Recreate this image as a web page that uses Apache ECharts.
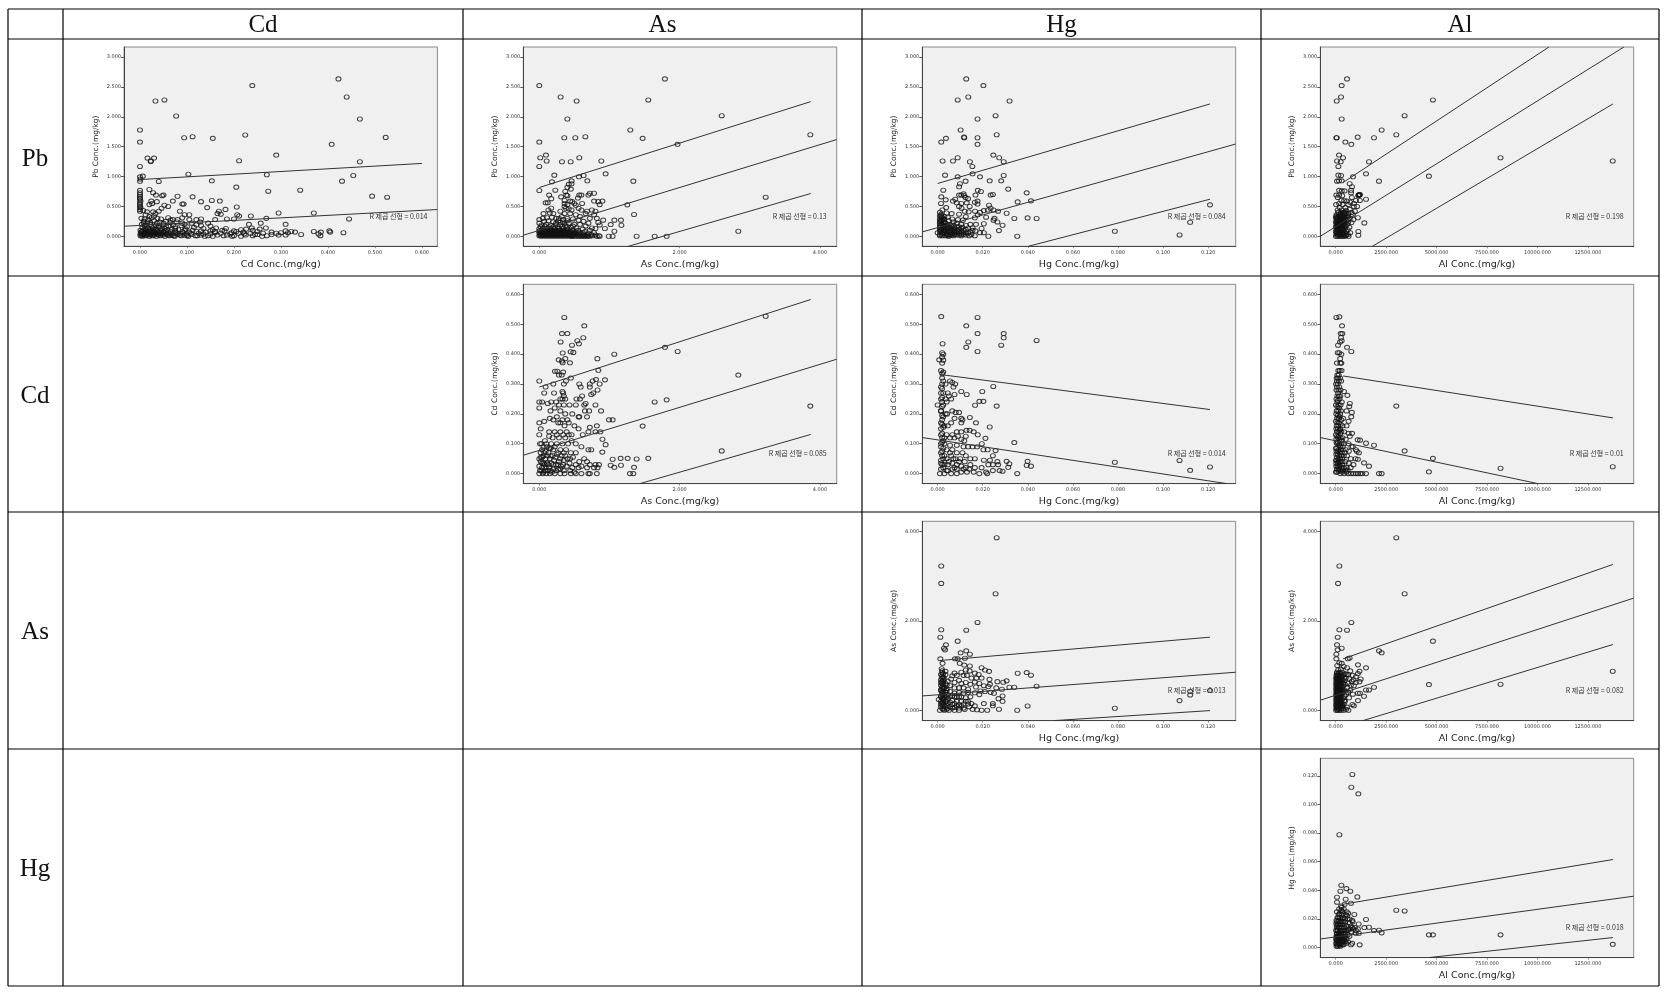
<!DOCTYPE html>
<html><head><meta charset="utf-8">
<script src="https://cdn.jsdelivr.net/npm/echarts@6/dist/echarts.min.js"></script>
<style>html,body{margin:0;padding:0;background:#fff}#c{width:1673px;height:998px;filter:blur(0.3px)}</style>
</head><body><div id="c"></div>
<script>
const colHeaders=['Cd','As','Hg','Al'];
const rowHeaders=['Pb','Cd','As','Hg'];
const ticksCd=[0,.1,.2,.3,.4,.5,.6];
const ticksPb=[0,.5,1,1.5,2,2.5,3];
const ticksAs=[0,2,4];
const ticksHg=[0,.02,.04,.06,.08,.1,.12];
const ticksAl=[0,2500,5000,7500,10000,12500];

const pbCd=[[.4224,2.636],[.239,2.524],[.44,2.333],[.052,2.283],[.033,2.266],[.468,1.964],[.077,2.015],[0,1.78],[0,1.578],[.094,1.65],[.112,1.668],[.155,1.64],[.224,1.696],[.523,1.656],[.408,1.54],[.29,1.36],[.016,1.31],[.03,1.31],[.023,1.254],[.023,1.26],[0,1.17],[.211,1.265],[.468,1.248],[.103,1.04],[.27,1.03],[.454,1.018],[0,.996],[.006,1.007],[.001,.96],[.04,.918],[.153,.929],[.43,.923],[0,.92],[.205,.823],[.273,.755],[.341,.772],[.02,.783],[.494,.672],[.526,.655],
[0,.42],[0,.45],[.001,.48],[0,.5],[0,.53],[0,.56],[.001,.59],[0,.62],[0,.64],[0,.67],[0,.7],[0,.73],[0,.77],
[.028,.73],[.034,.69],[.047,.68],[.05,.69],[.024,.59],[.02,.53],[.026,.55],[.036,.58],[.052,.52],[.08,.67],[.07,.59],[.112,.66],[.13,.58],[.09,.54],[.093,.54],[.153,.6],[.17,.59],[.143,.48],[.206,.49],[.182,.45],[.168,.42],[.165,.38],[.172,.37],[.06,.5],[.046,.47],[.04,.42],[.085,.42],[.007,.43],[.015,.41],[.028,.41],[.033,.38],[.095,.36],[.105,.36],[.09,.31],[.207,.36],[.211,.34],[.236,.34],[.295,.39],[.37,.39],[.269,.3],[.445,.29],[.2,.29],[.185,.29],[.16,.28],[.13,.29],[.12,.28],[.105,.28],[.31,.2],[.257,.22],[.232,.2],
[.003,.3],[.01,.29],[.018,.28],[.025,.31],[.037,.3],[.045,.29],[.06,.31],[.07,.28],[.008,.25],[.016,.24],[.03,.26],[.042,.24],[.055,.25],[.065,.23],[.078,.24],[.09,.22],[.11,.22],[.128,.24],[.145,.22],[.004,.2],[.012,.19],[.022,.2],[.034,.18],[.05,.19],[.062,.17],[.075,.16],[.088,.18],[.1,.16],[.115,.15],[.13,.18],[.15,.17],[.162,.14],[.183,.13],[.005,.15],[.017,.14],[.028,.14],[.04,.15],[.052,.13],[.068,.12],[.082,.11],[.097,.12],[.112,.1],[.135,.13],[.155,.11],[.175,.1],[.2,.09],[.215,.11],[.226,.12],[.24,.1],[.255,.12],[.268,.14],[.238,.14],
[.001,.1],[.006,.09],[.012,.1],[.02,.09],[.028,.1],[.036,.09],[.045,.1],[.055,.09],[.065,.08],[.075,.09],[.09,.08],[.105,.07],[.12,.08],[.14,.07],[.16,.08],[.18,.09],[.205,.08],[.22,.07],[.25,.08],[.28,.07],[.31,.09],[.322,.08],[.33,.07],[.002,.07],[.009,.06],[.016,.07],[.024,.06],[.032,.07],[.041,.06],[.05,.07],[.06,.06],[.072,.05],[.085,.05],[.1,.04],[.125,.05],[.15,.04],[.172,.05],[.192,.04],[.21,.05],[.235,.05],[.262,.05],[.29,.05],[.3,.06],[.315,.06],[.343,.03],[.37,.08],[.385,.07],[.403,.09],[.405,.07],[.433,.06],
[.001,.04],[.007,.03],[.014,.04],[.021,.03],[.029,.04],[.038,.03],[.047,.04],[.057,.03],[.068,.02],[.08,.03],[.095,.02],[.11,.03],[.13,.02],[.145,.01],[.165,.02],[.185,.02],[.2,.01],[.225,.02],[.245,.03],[.27,.01],[.295,.02],[.31,.02],[.38,.04],[.384,.01],[.001,.01],[.005,0],[.012,.01],[.02,0],[.027,.01],[.035,0],[.044,.01],[.053,0],[.063,.01],[.074,0],[.088,.01],[.103,0],[.118,.01],[.138,0],[.155,0],[.178,.01],[.196,0],[.215,0],[.24,.01],[.26,0],
[.004,.02],[.01,.02],[.016,.02],[.023,.02],[.031,.02],[.04,.02],[.05,.02],[.06,.02],[.072,.01],[.085,.02],[.1,.01],[.122,.01],[.004,.05],[.011,.05],[.018,.05],[.026,.05],[.035,.05],[.044,.05],[.054,.05],[.066,.04],[.078,.06],[.092,.06],[.108,.05],[.135,.04],[.16,.06],[.004,.08],[.014,.08],[.022,.08],[.03,.08],[.04,.08],[.05,.08],[.095,.1],[.13,.09],[.15,.09],[.195,.06],[.222,.04],[.25,.03],[.28,.03],[.012,.13],[.022,.12],[.034,.12],[.045,.13],[.058,.11],[.075,.13],[.01,.17],[.024,.17],[.04,.17],[.056,.16],[.07,.19],[.095,.2],[.12,.19],[.008,.22],[.022,.23],[.036,.22],[.05,.22],[.065,.27],[.08,.28],[.02,.33],[.03,.34],[.012,.36]];

const pbAs=[[1.79,2.636],[0,2.524],[.304,2.333],[.532,2.266],[1.553,2.283],[2.6,2.02],[.4,1.964],[1.297,1.78],[.356,1.65],[.513,1.65],[.656,1.668],[1.473,1.64],[3.862,1.7],[0,1.578],[1.97,1.54],[.014,1.315],[.095,1.36],[.57,1.315],[.105,1.26],[.323,1.248],[.447,1.248],[.884,1.26],[0,1.17],[.214,1.024],[.945,1.046],[.632,1.018],[.565,.996],[1.34,.923],[.684,.929],[.46,.929],[.18,.912],[0,.767],[.228,.772],[3.226,.655],[2.836,.084],[1.815,0],[1.644,0],[1.387,0],[1.35,.364],[1.254,.526],[1.164,.27],[1.17,.185],[1.07,.27],[.91,.27],[1.07,.084],[1.045,0],[.99,0],[1.017,.196],[.935,.13],
[.42,.87],[.46,.88],[.4,.82],[.45,.79],[.37,.75],[.31,.66],[.14,.69],[.17,.63],[.385,.69],[.4,.68],[.57,.69],[.6,.69],[.7,.69],[.72,.72],[.78,.72],[.78,.59],[.84,.58],[.9,.59],[.86,.53],[.55,.64],[.61,.55],[.09,.56],[.12,.56],[.36,.6],[.36,.55],[.4,.53],[.44,.59],[.47,.58],[.5,.55],[.17,.47],[.13,.44],[.36,.5],[.38,.47],[.42,.46],[.46,.44],[.52,.52],[.56,.47],[.6,.44],[.68,.42],[.75,.44],[.8,.42],[.06,.38],[.15,.39],[.2,.38],[.3,.42],[.36,.38],[.44,.38],[.52,.36],[.58,.33],[.66,.38],[.72,.3],[.78,.36],[.82,.3],[0,.28],[.05,.3],[.11,.31],[.18,.32],[.24,.3],[.32,.33],[.4,.3],[.48,.29],[.56,.27],[.63,.25],[.7,.22],[.84,.23],[.86,.19],[0,.22],[.07,.25],[.13,.26],[.2,.24],[.27,.26],[.34,.24],[.42,.22],[.5,.2],[.58,.2],[.66,.17],[.75,.14],[.8,.13],[.03,.19],[.1,.2],[.17,.18],[.23,.19],[.3,.19],[.37,.17],[.45,.15],[.53,.14],[.62,.12],[.72,.1],
[0,.13],[.05,.14],[.11,.14],[.16,.13],[.22,.13],[.28,.13],[.34,.13],[.4,.12],[.48,.11],[.55,.1],[.65,.08],[.78,.06],[0,.09],[.03,.1],[.07,.09],[.11,.1],[.15,.09],[.19,.1],[.23,.09],[.27,.1],[.31,.09],[.35,.1],[.39,.09],[.43,.08],[.47,.09],[.52,.07],[.57,.07],[.62,.06],[.7,.05],[0,.06],[.02,.07],[.05,.06],[.08,.07],[.11,.06],[.14,.07],[.17,.06],[.2,.07],[.23,.06],[.26,.07],[.29,.06],[.32,.07],[.35,.06],[.38,.05],[.41,.06],[.44,.05],[.48,.05],[.51,.04],[.55,.04],[.59,.04],[.63,.03],[.68,.03],[.74,.03],[.8,.02],[.85,.01],[.01,.03],[.04,.04],[.07,.03],[.1,.04],[.13,.03],[.16,.04],[.19,.03],[.22,.04],[.25,.03],[.28,.04],[.31,.03],[.34,.04],[.37,.03],[.4,.03],[.43,.02],[.46,.03],[.5,.02],[.54,.02],[.58,.01],[.62,.01],[.66,.01],[.7,.01],[.76,.01],[.82,0],[.86,0],[0,.01],[.03,0],[.06,.01],[.09,0],[.12,.01],[.15,0],[.18,.01],[.21,0],[.24,.01],[.27,0],[.3,.01],[.33,0],[.36,.01],[.39,0],[.42,.01],[.45,0],[.48,0],[.52,0],[.56,0],[.6,0],[.64,0],[.68,0],[.72,0],
[.015,.02],[.045,.02],[.075,.02],[.105,.02],[.135,.02],[.165,.02],[.195,.02],[.225,.02],[.255,.02],[.285,.02],[.315,.02],[.345,.02],[.375,.02],[.405,.02],[.44,.01],[.475,.01],[.02,.05],[.05,.05],[.08,.05],[.11,.05],[.14,.05],[.17,.05],[.2,.05],[.23,.05],[.26,.05],[.29,.05],[.32,.05],[.35,.05],[.39,.04],[.43,.04],[.47,.04],[.04,.08],[.09,.08],[.13,.08],[.17,.08],[.21,.08],[.25,.08],[.29,.08],[.33,.08],[.37,.08],[.41,.07],[.45,.07],[.5,.06],[.02,.16],[.08,.17],[.14,.16],[.2,.16],[.26,.16],[.33,.16],[.4,.16],[.48,.17],[.24,.22],[.3,.23],[.36,.22],[.4,.26],[.34,.28],[.28,.3]];

const pbHg=[[.0127,2.636],[.0203,2.524],[.0136,2.333],[.0089,2.283],[.0319,2.266],[.0257,2.02],[.0177,1.964],[.0102,1.78],[.0037,1.64],[.0016,1.578],[.0117,1.66],[.0118,1.65],[.0177,1.65],[.0262,1.7],[.0177,1.54],[.0247,1.36],[.0089,1.315],[.0273,1.315],[.0022,1.26],[.0068,1.26],[.0143,1.248],[.0293,1.248],[.0154,1.17],[.0033,1.024],[.0089,.996],[.0155,1.046],[.0188,.996],[.0293,1.018],[.0124,.923],[.0231,.929],[.0282,.929],[.0099,.88],[.0095,.83],[.0025,.772],[.0313,.79],[.0395,.727],[.0355,.576],[.0414,.593],[.0306,.386],[.034,.297],[.0399,.308],[.0439,.297],[.0353,0],[.0272,.095],[.0288,.185],[.0786,.084],[.1073,.022],[.112,.235],[.1208,.526],
[.0178,.77],[.0192,.75],[.0168,.69],[.0115,.71],[.0118,.68],[.0124,.65],[.0135,.63],[.0095,.69],[.0105,.69],[.0016,.66],[.0036,.61],[.0078,.62],[.0068,.59],[.0085,.56],[.0105,.55],[.0129,.56],[.0165,.57],[.0177,.59],[.0235,.69],[.0245,.7],[.0015,.55],[.0038,.48],[.0095,.5],[.0106,.47],[.0142,.5],[.0177,.54],[.0228,.52],[.0235,.47],[.0248,.44],[.0268,.42],[.0021,.44],[.004,.39],[.0062,.38],[.0095,.37],[.012,.42],[.0138,.41],[.0166,.42],[.0188,.4],[.0205,.43],[.0223,.44],[.0178,.36],[.0165,.31],[.0215,.32],[.0248,.27],[.0252,.3],[.0265,.24],[.0205,.21],[.0195,.13],[.017,.2],[.0145,.2],[.0126,.18],[.0112,.27],[.009,.28],[.0065,.29],[.0045,.32],[.0125,.33],[.0155,.1],[.0145,.07],[.0168,.09],[.0188,.06],[.0205,.06],[.0225,0],[.0165,.01],[.0135,.05],[.0115,.1],
[.001,.4],[.0015,.37],[.001,.34],[.002,.32],[.001,.29],[.002,.27],[.001,.25],[.0025,.24],[.001,.22],[.002,.2],[.001,.18],[.003,.17],[.001,.15],[.002,.13],[.001,.11],[.0025,.1],[.001,.08],[.002,.06],[0,.06],[.001,.03],[.002,.01],[.003,.28],[.0035,.22],[.004,.17],[.0035,.12],[.0035,.08],[.004,.04],[.0035,.01],[.005,.26],[.0055,.2],[.005,.15],[.0055,.1],[.005,.07],[.0055,.03],[.005,0],[.007,.24],[.007,.18],[.007,.12],[.007,.08],[.0065,.04],[.007,.01],[.0085,.22],[.0085,.16],[.0085,.1],[.0085,.06],[.0085,.02],[.0105,.2],[.0105,.13],[.0105,.08],[.0105,.04],[.0105,.01],[.0125,.11],[.0125,.06],[.0125,.02],[.014,.01],[.015,.03],[.0135,.14],[.0155,.14],
[.001,.01],[.002,.04],[.003,.06],[.0015,.09],[.003,.1],[.0015,.12],[.003,.14],[.0015,.16],[.0025,.19],[.0015,.21],[.003,.23],[.0015,.26],[.0025,.29],[.0015,.31],[.003,.33],[.0015,.35],[.0045,.01],[.0045,.03],[.0045,.08],[.0045,.12],[.0045,.19],[.006,.02],[.006,.06],[.006,.1],[.006,.14],[.006,.18],[.0075,.03],[.0075,.06],[.0075,.1],[.0075,.14],[.0095,.02],[.0095,.05],[.0095,.08],[.0095,.12],[.0115,.03],[.0115,.06],[.0095,.16],[.011,.15]];

const pbAl=[[561,2.636],[297,2.524],[264,2.333],[50,2.266],[4818,2.283],[3416,2.02],[297,1.964],[2277,1.78],[33,1.65],[50,1.65],[1089,1.66],[1898,1.65],[3003,1.7],[478,1.578],[775,1.54],[165,1.36],[363,1.315],[66,1.26],[248,1.248],[1650,1.248],[132,1.17],[8168,1.315],[13729,1.26],[132,1.024],[264,1.018],[1502,1.046],[858,.996],[4620,1.007],[2145,.923],[66,.923],[165,.929],[297,.929],[693,.88],[808,.83],[1419,.224],[1122,.08],[1122,.017],[1502,.62],
[1139,.69],[1160,.7],[1180,.69],[1120,.68],[1200,.7],[170,.77],[300,.76],[440,.76],[760,.77],[760,.73],[30,.69],[170,.69],[320,.68],[800,.65],[1000,.6],[1200,.6],[100,.65],[280,.6],[420,.6],[560,.59],[720,.57],[900,.55],[20,.53],[170,.55],[340,.53],[620,.53],[900,.5],[1060,.5],[200,.48],[480,.48],[700,.45],[950,.42],[100,.44],[300,.44],[520,.43],[780,.4],[1100,.31],[120,.4],[280,.4],[400,.4],[620,.38],[850,.36],
[40,.36],[150,.36],[250,.36],[350,.35],[450,.35],[560,.33],[700,.3],[880,.28],[10,.32],[80,.32],[180,.32],[280,.32],[380,.31],[480,.3],[600,.28],[780,.23],[40,.28],[120,.28],[210,.28],[300,.28],[400,.27],[500,.26],[620,.24],[10,.24],[80,.24],[170,.24],[260,.24],[350,.24],[440,.23],[560,.2],[40,.2],[120,.2],[210,.2],[300,.2],[400,.19],[500,.17],[680,.15],[10,.16],[80,.16],[170,.16],[260,.16],[350,.15],[450,.13],[600,.11],[40,.12],[120,.12],[210,.12],[300,.12],[400,.1],[520,.08],[720,.06],[10,.08],[80,.08],[170,.08],[260,.08],[350,.07],[460,.05],[600,.03],[40,.04],[120,.04],[210,.04],[300,.04],[400,.03],[500,.01],[640,0],[10,0],[80,0],[170,0],[260,0],[350,0],[440,0],
[50,.34],[200,.34],[320,.33],[420,.33],[60,.3],[220,.3],[340,.3],[100,.26],[230,.26],[330,.26],[60,.22],[190,.22],[320,.22],[440,.2],[90,.18],[240,.18],[360,.17],[60,.14],[190,.14],[330,.13],[100,.1],[250,.1],[360,.1],[50,.06],[190,.06],[330,.06],[100,.02],[240,.02],[380,.02],[520,.02],[240,.38],[390,.38],[450,.4],[500,.38],[600,.34]];

const cdAs=[[.356,.523],[.641,.495],[.323,.469],[.4,.469],[.627,.455],[.542,.445],[.304,.441],[.565,.435],[.466,.43],[1.791,.423],[1.972,.409],[1.069,.4],[.447,.408],[.485,.406],[.333,.404],[.827,.385],[.37,.385],[.276,.381],[.323,.377],[.437,.371],[.333,.371],[.841,.346],[.223,.343],[.257,.343],[3.226,.527],[0,.31],[2.836,.33],[.936,.314],[.808,.315],[3.862,.226],[1.644,.24],[1.815,.247],[1.473,.159],[2.6,.076],[1.045,.18],[.993,.18],[.945,.097],[.898,.072],[1.045,.048],[1.159,.051],[1.259,.051],[1.387,.049],[1.553,.051],[1.069,.021],[1.017,.028],[1.164,.028],[1.35,.021],[1.292,0],[1.34,0],
[.09,.29],[.2,.3],[.34,.34],[.32,.33],[.28,.33],[.38,.31],[.45,.32],[.35,.3],[.57,.3],[.59,.29],[.72,.3],[.76,.31],[.86,.3],[.72,.29],[.83,.28],[.77,.27],[.74,.265],[.61,.26],[.58,.25],[.53,.25],[.07,.27],[.21,.27],[.33,.275],[.35,.26],[.37,.25],[.0,.24],[.04,.24],[.12,.235],[.17,.24],[.24,.24],[.35,.23],[.43,.23],[.52,.23],[.66,.235],[.64,.23],[.8,.23],[0,.22],[.16,.21],[.22,.22],[.3,.21],[.37,.2],[.47,.2],[.56,.19],[.65,.21],[.71,.21],[.88,.21],[.07,.175],[.15,.185],[.2,.18],[.27,.17],[.33,.18],[.42,.17],[.5,.16],[.57,.19],[.68,.19],[.72,.155],[.82,.16],[.87,.14],[0,.17],[.02,.15],[.14,.14],[.22,.14],[.3,.14],[.39,.14],[.46,.13],[.56,.15],[.62,.13],[.7,.14],[.8,.14],[.9,.115],[0,.13],[.01,.1],[.08,.11],[.14,.125],[.19,.12],[.28,.12],[.37,.12],[.46,.11],[.52,.1],[.6,.09],[.7,.08],[.74,.08],
[.06,.09],[.11,.09],[.16,.085],[.22,.09],[.3,.08],[.38,.08],[.45,.07],[.52,.07],[.64,.05],[.02,.07],[.07,.07],[.13,.07],[.19,.06],[.25,.065],[.32,.06],[.4,.05],[.48,.055],[.57,.04],[.68,.04],[0,.05],[.04,.055],[.09,.05],[.15,.05],[.21,.045],[.28,.04],[.35,.045],[.43,.035],[.52,.03],[.6,.025],[.72,.03],[.8,.03],[.85,.03],[.02,.04],[.06,.035],[.11,.035],[.17,.035],[.24,.03],[.31,.025],[.39,.025],[.47,.02],[.56,.02],[.68,.02],[.78,.02],[.83,.02],[0,.025],[.04,.02],[.09,.02],[.14,.02],[.2,.015],[.27,.015],[.35,.01],[.44,.01],[.5,.005],[.01,.01],[.06,.005],[.12,.01],[.18,.005],[.0,0],[.05,0],[.1,0],[.15,0],[.22,0],[.3,0],[.36,0],[.45,0],[.52,0],[.6,0],[.7,0],[.72,0],[.82,0],
[.03,.01],[.08,.01],[.16,.01],[.24,.01],[.3,.015],[.04,.035],[.08,.03],[.13,.03],[.2,.03],[.27,.03],[.34,.03],[.02,.055],[.06,.06],[.11,.06],[.16,.06],[.23,.055],[.3,.05],[.37,.06],[.44,.05],[.04,.08],[.09,.075],[.14,.085],[.2,.08],[.27,.07],[.35,.07],[.03,.1],[.1,.1],[.17,.1],[.25,.1],[.33,.1],[.41,.1],[.25,.13],[.34,.13],[.42,.13],[.25,.19],[.3,.17],[.36,.16],[.4,.18],[.3,.25],[.33,.25],[.34,.27],[.28,.23]];

const cdHg=[[.0016,.526],[.0177,.523],[.0127,.495],[.0177,.469],[.0293,.469],[.0293,.455],[.0439,.446],[.0136,.441],[.0022,.435],[.0282,.43],[.0127,.423],[.0177,.409],[.0007,.381],[.0247,.292],[.0198,.275],[.0105,.275],[.0129,.265],[.0185,.242],[.0203,.242],[.0166,.229],[.0262,.226],[.034,.104],[.0231,.156],[.017,.17],[.0143,.188],[.0786,.038],[.1073,.044],[.112,.011],[.1208,.022],[.0353,0],[.0399,.041],[.0395,.028],[.0414,.025],[.0306,.041],[.0318,.033],[.0313,.021],
[.002,.405],[.002,.39],[.002,.37],[.0015,.345],[.002,.335],[.002,.32],[.002,.3],[.002,.285],[.0015,.27],[.002,.255],[.002,.24],[.002,.225],[.0015,.21],[.002,.195],[.002,.18],[.002,.165],[.0015,.15],[.002,.135],[.002,.12],[.002,.105],[.0015,.09],[.002,.075],[.002,.06],[.0015,.045],[.002,.03],[.0015,.015],[.001,0],[0,.23],[.004,.24],[.005,.26],[.006,.25],[.0055,.31],[.0065,.305],[.0078,.3],[.007,.29],[.0075,.265],[.0065,.21],[.008,.205],[.0095,.205],[.0105,.185],[.011,.18],[.0045,.27],[.0042,.2],[.0045,.16],[.006,.17],[.0075,.185],[.0085,.14],[.0105,.17],[.0118,.11],[.0128,.145],[.0142,.145],[.0178,.13],[.016,.14],[.0125,.125],[.0105,.14],[.0065,.13],[.004,.13],[.0055,.12],[.0075,.12],[.009,.125],[.0105,.115],[.0212,.118],[.0196,.1],[.0203,.08],[.0222,.08],[.0257,.077],[.0245,.06],[.0175,.09],[.0155,.09],[.0135,.09],[.0115,.09],[.0085,.095],[.0055,.095],[.004,.08],[.0065,.08],[.0085,.07],[.011,.07],[.0125,.06],[.0145,.05],[.0165,.05],[.0205,.045],[.0232,.045],[.0265,.04],[.0268,.03],[.0245,.03],[.0225,.03],[.0195,.02],[.0165,.02],[.0145,.03],[.012,.04],[.01,.05],[.008,.05],[.006,.06],[.004,.05],[.0045,.03],[.0065,.035],[.0085,.03],[.0105,.025],[.0125,.02],[.0085,.015],[.0065,.015],[.004,.01],[.006,0],[.0085,0],[.0105,.005],[.013,.005],[.016,.005],[.0185,0],[.0215,.005],[.0245,.01],[.0275,.01],[.0288,.008],[.022,0],
[.0025,.4],[.0025,.38],[.0025,.34],[.0025,.31],[.0015,.29],[.0025,.27],[.0015,.25],[.0025,.23],[.0015,.21],[.0025,.19],[.0015,.17],[.0025,.155],[.0015,.13],[.0025,.11],[.0015,.1],[.0025,.085],[.0015,.07],[.0025,.05],[.0015,.035],[.0025,.02],[.003,.16],[.003,.12],[.003,.1],[.003,.06],[.003,.03],[.003,0],[.0045,.01],[.0035,.2],[.0035,.25],[.0035,.3],[.005,.04],[.0055,.07],[.007,.05],[.0075,.02],[.0095,.04],[.0115,.015],[.014,.015]];

const cdAl=[[33,.523],[182,.525],[314,.495],[248,.469],[330,.469],[264,.455],[297,.445],[215,.441],[116,.43],[561,.423],[775,.409],[3003,.226],[3416,.076],[4818,.051],[4620,.006],[8168,.018],[13729,.023],[2145,0],[2277,0],[1898,.095],[1502,.102],[1089,.113],[1205,.112],[1403,.036],[1650,.025],[1502,0],
[100,.405],[180,.405],[280,.4],[220,.385],[60,.37],[230,.37],[280,.37],[130,.345],[200,.345],[290,.345],[80,.33],[150,.33],[60,.31],[160,.31],[270,.31],[20,.3],[100,.3],[180,.29],[40,.28],[120,.27],[410,.275],[580,.262],[230,.26],[40,.25],[110,.245],[190,.25],[300,.24],[700,.235],[670,.225],[10,.23],[80,.225],[170,.22],[260,.21],[540,.21],[800,.205],[30,.2],[110,.195],[200,.19],[370,.185],[770,.19],[640,.175],[10,.175],[80,.17],[160,.17],[250,.165],[340,.16],[540,.16],[30,.15],[110,.15],[190,.145],[280,.14],[420,.14],[640,.135],[810,.135],[10,.13],[70,.125],[150,.125],[240,.12],[340,.12],[500,.115],[700,.125],[40,.105],[110,.105],[190,.1],[280,.1],[400,.1],[640,.1],[780,.09],[850,.09],[10,.085],[70,.085],[150,.08],[240,.08],[350,.08],[500,.08],[650,.075],[1000,.08],[1150,.07],[1050,.075],[30,.065],[100,.065],[180,.06],[270,.06],[400,.06],[560,.06],[750,.05],[980,.05],[1100,.048],[10,.045],[70,.045],[150,.04],[240,.04],[340,.04],[480,.04],[650,.035],[880,.03],[30,.025],[100,.025],[180,.025],[270,.02],[400,.02],[540,.02],[740,.02],[10,.005],[70,.005],[150,.008],[230,0],[320,.005],[420,0],[520,.005],[620,0],[760,0],[880,0],[1000,0],[1100,0],[1220,0],[1320,0],
[50,.32],[120,.32],[220,.32],[60,.29],[140,.28],[240,.28],[80,.26],[160,.26],[80,.24],[150,.23],[240,.23],[50,.21],[130,.21],[220,.2],[70,.185],[150,.185],[280,.18],[50,.16],[130,.16],[220,.15],[60,.14],[130,.14],[230,.135],[30,.115],[110,.12],[190,.115],[300,.11],[70,.1],[150,.095],[230,.09],[350,.09],[40,.075],[110,.075],[200,.07],[300,.07],[450,.07],[60,.055],[140,.05],[220,.05],[320,.05],[30,.035],[110,.035],[200,.03],[320,.03],[60,.015],[140,.015],[230,.012],[350,.012],[480,.012],[600,.012]];

const asHg=[[.0262,3.858],[.0016,3.224],[.0016,2.836],[.0257,2.604],[.0177,1.963],[.0016,1.8],[.0127,1.79],[.0012,1.634],[.0089,1.545],[.0037,1.463],[.0028,1.388],[.0033,1.35],[.0127,1.328],[.0102,1.284],[.0143,1.254],[.0012,1.15],[.0077,1.15],[.0089,1.15],[.0121,1.164],[.0355,.828],[.0395,.843],[.0414,.784],[.0439,.537],[.0306,.657],[.0291,.627],[.0265,.64],[.034,.515],[.0318,.515],[.0288,.32],[.0288,.2],[.0272,.022],[.0353,0],[.0399,.097],[.0786,.045],[.1073,.216],[.112,.343],[.112,.425],[.1208,.44],
[.0022,1.05],[.0018,.93],[.0098,1.05],[.0118,1.01],[.0143,.99],[.0125,.9],[.0142,.88],[.0195,.95],[.021,.9],[.0228,.87],[.0165,.83],[.0182,.8],[.0035,.87],[.0075,.83],[.0105,.85],[.0085,.78],[.0065,.77],[.0115,.78],[.013,.78],[.015,.72],[.0172,.72],[.0195,.72],[.023,.69],[.0232,.58],[.026,.5],[.0285,.47],[.0165,.63],[.0185,.6],[.0205,.55],[.0225,.53],[.0145,.58],[.0125,.62],[.0105,.6],[.0095,.67],[.0075,.62],[.006,.7],[.0045,.65],[.017,.52],[.019,.43],[.021,.42],[.0235,.4],[.025,.38],[.027,.26],[.0165,.39],[.0185,.35],[.0135,.47],[.0115,.5],[.0095,.5],[.0075,.5],[.0055,.55],[.004,.48],[.0135,.4],[.0115,.38],[.0095,.4],[.0075,.38],[.0055,.42],[.0145,.3],[.0125,.28],[.0105,.3],[.0085,.3],[.0065,.32],[.0045,.35],[.0245,.15],[.0245,.1],[.0205,.15],[.0165,.1],[.015,.15],[.0125,.2],[.0105,.2],[.0085,.2],[.0065,.22],[.0045,.25],[.014,.08],[.012,.02],[.0155,.02],[.0175,.01],[.0195,0],[.022,0],[.0105,.1],[.0095,0],[.0085,.1],[.0065,.13],[.0065,.05],[.0045,.15],[.0045,.05],[.005,0],[.0075,0],
[.002,.88],[.002,.84],[.0015,.8],[.002,.76],[.002,.72],[.0015,.68],[.002,.64],[.002,.6],[.0015,.56],[.002,.52],[.002,.48],[.0015,.44],[.002,.4],[.002,.36],[.0015,.32],[.002,.28],[.0025,.24],[.0005,.24],[.0015,.2],[.002,.16],[.002,.12],[.0015,.08],[.002,.04],[.001,0],[.0035,.8],[.003,.7],[.0035,.6],[.003,.5],[.0035,.4],[.003,.3],[.0035,.2],[.003,.1],[.003,0],
[.0025,.82],[.0025,.74],[.0025,.66],[.0025,.58],[.0025,.5],[.0025,.42],[.0025,.34],[.0025,.26],[.0025,.18],[.0025,.1],[.0025,.02],[.0015,.62],[.0015,.46],[.0015,.3],[.0015,.14],[.004,.56],[.004,.44],[.004,.3],[.004,.2],[.004,.1],[.004,.02],[.0055,.3],[.0055,.18],[.0055,.08],[.0075,.3],[.0075,.15],[.0075,.06],[.0095,.3],[.0095,.12],[.0095,.05],[.0115,.14],[.0115,.05],[.0135,.14],[.0135,.2]];

const asAl=[[3003,3.858],[182,3.224],[116,2.836],[3416,2.604],[775,1.963],[182,1.8],[561,1.79],[99,1.634],[4818,1.545],[66,1.463],[297,1.388],[99,1.35],[2145,1.328],[2277,1.284],[33,1.254],[33,1.15],[600,1.15],[690,1.17],[13729,.873],[1502,.948],[1105,1.015],[4620,.575],[8168,.582],[1898,.515],[1502,.455],[1650,.455],[1403,.313],[1105,.216],[1240,.7],[1180,.64],[1100,.82],[1180,.87],[1100,.38],[1200,.38],[900,.1],[830,.13],
[180,1.06],[300,1.05],[80,1.0],[400,.98],[560,.95],[720,.88],[260,.92],[120,.9],[620,.8],[840,.78],[1000,.75],[60,.85],[180,.85],[320,.85],[460,.82],[800,.65],[1000,.62],[40,.78],[120,.78],[220,.78],[340,.76],[500,.72],[680,.7],[880,.68],[20,.72],[100,.72],[180,.72],[280,.7],[400,.66],[620,.6],[750,.56],[30,.66],[110,.66],[200,.66],[310,.62],[460,.58],[900,.55],[20,.6],[90,.6],[170,.6],[250,.58],[360,.54],[560,.5],[720,.45],[30,.54],[110,.54],[200,.54],[290,.5],[420,.46],[620,.4],[850,.36],[20,.48],[90,.48],[170,.48],[260,.44],[370,.4],[520,.36],[30,.42],[110,.42],[200,.42],[300,.38],[440,.32],[660,.28],[20,.36],[90,.36],[170,.36],[260,.32],[370,.27],[30,.3],[110,.3],[200,.3],[300,.24],[460,.2],[20,.24],[90,.24],[170,.24],[260,.18],[400,.14],[30,.18],[110,.18],[200,.18],[330,.1],[560,.07],[20,.12],[90,.12],[170,.12],[280,.08],[30,.06],[110,.06],[200,.06],[360,.04],[520,.02],[630,0],[20,0],[90,0],[170,0],[270,0],[400,0],
[60,.82],[140,.82],[260,.82],[400,.8],[540,.8],[60,.75],[150,.75],[270,.75],[420,.72],[60,.69],[150,.69],[250,.67],[340,.68],[60,.63],[140,.63],[230,.63],[380,.6],[60,.57],[140,.57],[240,.55],[60,.51],[140,.51],[230,.48],[340,.46],[60,.45],[140,.45],[250,.4],[350,.44],[60,.39],[140,.39],[230,.38],[60,.33],[140,.33],[230,.33],[60,.27],[140,.27],[230,.27],[60,.21],[140,.21],[230,.21],[60,.15],[140,.15],[230,.14],[60,.09],[140,.09],[240,.09],[60,.03],[140,.03],[240,.03],[340,.1],[300,.14],[420,.22]];

const hgAl=[[825,.1209],[775,.112],[1122,.1074],[182,.0788],[280,.0436],[528,.0412],[726,.0394],[231,.0394],[1072,.0354],[66,.0352],[495,.0338],[66,.0317],[759,.031],[445,.0303],[924,.0231],[3003,.0261],[3416,.0256],[1502,.0196],[2145,.0121],[2277,.0103],[1898,.0119],[1650,.0142],[1419,.014],[1139,.0165],[4620,.0089],[4818,.0089],[8168,.0089],[13729,.0023],[1188,.0019],
[270,.029],[290,.028],[170,.027],[60,.025],[400,.027],[550,.025],[620,.024],[150,.023],[310,.023],[500,.023],[690,.02],[90,.021],[220,.021],[380,.021],[590,.02],[820,.019],[840,.018],[40,.019],[150,.019],[290,.018],[470,.018],[700,.017],[30,.017],[100,.016],[210,.016],[350,.016],[550,.015],[760,.015],[1000,.012],[1100,.013],[60,.014],[160,.014],[280,.014],[430,.014],[640,.013],[860,.013],[20,.012],[100,.012],[210,.012],[340,.012],[520,.012],[760,.011],[1000,.01],[1150,.01],[60,.01],[150,.01],[270,.01],[410,.01],[600,.009],[40,.008],[120,.008],[220,.008],[340,.008],[480,.008],[680,.008],[20,.006],[90,.006],[180,.006],[280,.006],[400,.006],[540,.006],[50,.005],[130,.004],[230,.004],[330,.004],[470,.004],[610,.004],[20,.003],[90,.002],[180,.002],[280,.003],[390,.002],[520,.003],[760,.002],[820,.003],[40,.001],[110,.001],[230,.001],
[60,.0075],[150,.0075],[240,.007],[330,.007],[430,.007],[60,.0045],[150,.005],[240,.005],[340,.005],[450,.005],[70,.0025],[160,.003],[250,.002],[340,.002],[60,.0095],[190,.009],[310,.009],[470,.01],[80,.012],[180,.011],[290,.012],[420,.012],[50,.0155],[150,.016],[280,.016],[440,.016],[70,.018],[210,.018],[380,.018],[130,.021],[300,.02],[460,.02],[200,.024],[340,.025],[560,.022],[280,.026],[820,.014],[950,.014],[700,.013],[600,.012]];

const rSquaredValues=['0.014','0.13','0.084','0.198','0.085','0.014','0.01','0.013','0.082','0.018'];

const fitPbCd=[[[0,.95],[.6,1.22]],[[-.034,.168],[.633,.448]]];
const fitPbAs=[[[0,.817],[3.867,2.255]],[[-.228,.017],[4.238,1.62]],[[1.268,-.168],[3.867,.716]]];
const fitPbHg=[[[0,.884],[.1208,2.216]],[[-.0068,.073],[.1322,1.545]],[[.0402,-.168],[.1208,.621]]];
const fitPbAl=[[[363,.9],[10568,3.17]],[[-763,0],[14283,3.17]],[[1816,-.168],[13738,2.216]]];
const fitCdAs=[[[0,.29],[3.867,.583]],[[-.228,.0615],[4.238,.383]],[[1.435,-.0335],[3.867,.131]]];
const fitCdHg=[[[.001,.332],[.1208,.2145]],[[-.0068,.1207],[.1282,-.0335]]];
const fitCdAl=[[[363,.327],[13738,.1866]],[[-763,.1207],[10017,-.0335]]];
const fitAsHg=[[[.001,1.112],[.1208,1.634]],[[-.0068,.32],[.1322,.85]],[[.0517,-.231],[.1208,-.0075]]];
const fitAsAl=[[[363,1.15],[13738,3.26]],[[-763,.224],[14767,2.507]],[[1353,-.231],[13738,1.47]]];
const fitHgAl=[[[363,.0303],[13738,.0615]],[[-763,.006],[14767,.0359]],[[4600,-.007],[13738,.007]]];

// layout (not data)
const colX=[63,463,862,1261,1659], rowY=[39,276,512,749,986];
const tableLeft=8, tableTop=9;
const frameL=[124,523.3,922.3,1320.3], frameW=313.4;
const frameT=[47,284.3,521.3,758.3], frameH=199.3;
const axes={
 Cd:{name:'Cd Conc.(mg/kg)',xr:[-.034,.633],yr:[-.0335,.634],t:ticksCd},
 Pb:{name:'Pb Conc.(mg/kg)',yr:[-.168,3.17],t:ticksPb},
 As:{name:'As Conc.(mg/kg)',xr:[-.228,4.238],yr:[-.231,4.224],t:ticksAs},
 Hg:{name:'Hg Conc.(mg/kg)',xr:[-.0068,.1322],yr:[-.00699,.1322],t:ticksHg},
 Al:{name:'Al Conc.(mg/kg)',xr:[-763,14767],t:ticksAl}
};
const panels=[
 ['Cd','Pb',0,0,pbCd,fitPbCd],['As','Pb',1,0,pbAs,fitPbAs],['Hg','Pb',2,0,pbHg,fitPbHg],['Al','Pb',3,0,pbAl,fitPbAl],
 ['As','Cd',1,1,cdAs,fitCdAs],['Hg','Cd',2,1,cdHg,fitCdHg],['Al','Cd',3,1,cdAl,fitCdAl],
 ['Hg','As',2,2,asHg,fitAsHg],['Al','As',3,2,asAl,fitAsAl],
 ['Al','Hg',3,3,hgAl,fitHgAl]
];
const labelFont='"DejaVu Sans"';
const grids=[],xAxes=[],yAxes=[],series=[],graphic=[];
const ln=(x1,y1,x2,y2)=>({type:'line',silent:true,z:1,shape:{x1,y1,x2,y2},style:{stroke:'#000',lineWidth:1.2}});
colX.forEach(x=>graphic.push(ln(x,tableTop,x,rowY[4])));
graphic.push(ln(tableLeft,tableTop,tableLeft,rowY[4]));
graphic.push(ln(tableLeft,tableTop,colX[4],tableTop));
rowY.forEach(y=>graphic.push(ln(tableLeft,y,colX[4],y)));
const hdr=(t,x,y)=>({type:'text',silent:true,z:2,x,y,style:{text:t,font:'25px "Liberation Serif"',fill:'#111',align:'center',verticalAlign:'middle'}});
colHeaders.forEach((t,i)=>graphic.push(hdr(t,(colX[i]+colX[i+1])/2,25)));
rowHeaders.forEach((t,i)=>graphic.push(hdr(t,35,(rowY[i]+rowY[i+1])/2+2)));

panels.forEach((p,i)=>{
 const [xv,yv,c,r,pts,fits]=p, X=axes[xv], Y=axes[yv];
 const fmt=v=>Number(v).toFixed(3);
 grids.push({left:frameL[c],top:frameT[r],width:frameW,height:frameH,show:true,backgroundColor:'#f0f0f0',borderColor:'#8a8a8a',borderWidth:1});
 xAxes.push({type:'value',gridIndex:i,min:X.xr[0],max:X.xr[1],position:'bottom',splitLine:{show:false},
  axisLine:{onZero:false,lineStyle:{color:'#444',width:1}},
  axisTick:{length:2,lineStyle:{color:'#666',width:.7},customValues:X.t},
  axisLabel:{customValues:X.t,formatter:fmt,fontFamily:labelFont,fontSize:5,color:'#333',margin:4,hideOverlap:false},
  name:X.name,nameLocation:'middle',nameGap:13,nameTextStyle:{fontFamily:labelFont,fontSize:9.5,color:'#222'}});
 yAxes.push({type:'value',gridIndex:i,min:Y.yr[0],max:Y.yr[1],position:'left',splitLine:{show:false},
  axisLine:{onZero:false,lineStyle:{color:'#444',width:1}},
  axisTick:{length:3,lineStyle:{color:'#333',width:.8},customValues:Y.t},
  axisLabel:{customValues:Y.t,formatter:fmt,fontFamily:labelFont,fontSize:5,color:'#333',margin:3,hideOverlap:false},
  name:Y.name,nameLocation:'middle',nameGap:24,nameTextStyle:{fontFamily:labelFont,fontSize:7.5,color:'#222'}});
 series.push({type:'scatter',xAxisIndex:i,yAxisIndex:i,data:pts,symbol:'circle',symbolSize:[5,4.2],silent:true,clip:true,z:3,
  itemStyle:{color:'rgba(0,0,0,0)',borderColor:'#111',borderWidth:.95}});
 fits.forEach(f=>series.push({type:'line',xAxisIndex:i,yAxisIndex:i,data:f,symbol:'none',silent:true,clip:true,z:4,lineStyle:{color:'#333',width:1}}));
 graphic.push({type:'text',silent:true,z:5,x:frameL[c]+frameW-10,y:frameT[r]+frameH-30,style:{text:'R 제곱 선형 = '+rSquaredValues[i],font:'7px "Noto Sans CJK KR"',fill:'#333',align:'right',verticalAlign:'middle'}});
});
const chart=echarts.init(document.getElementById('c'),null,{renderer:'canvas'});
chart.setOption({animation:false,backgroundColor:'#fff',grid:grids,xAxis:xAxes,yAxis:yAxes,series,graphic:{elements:graphic}});
</script></body></html>
